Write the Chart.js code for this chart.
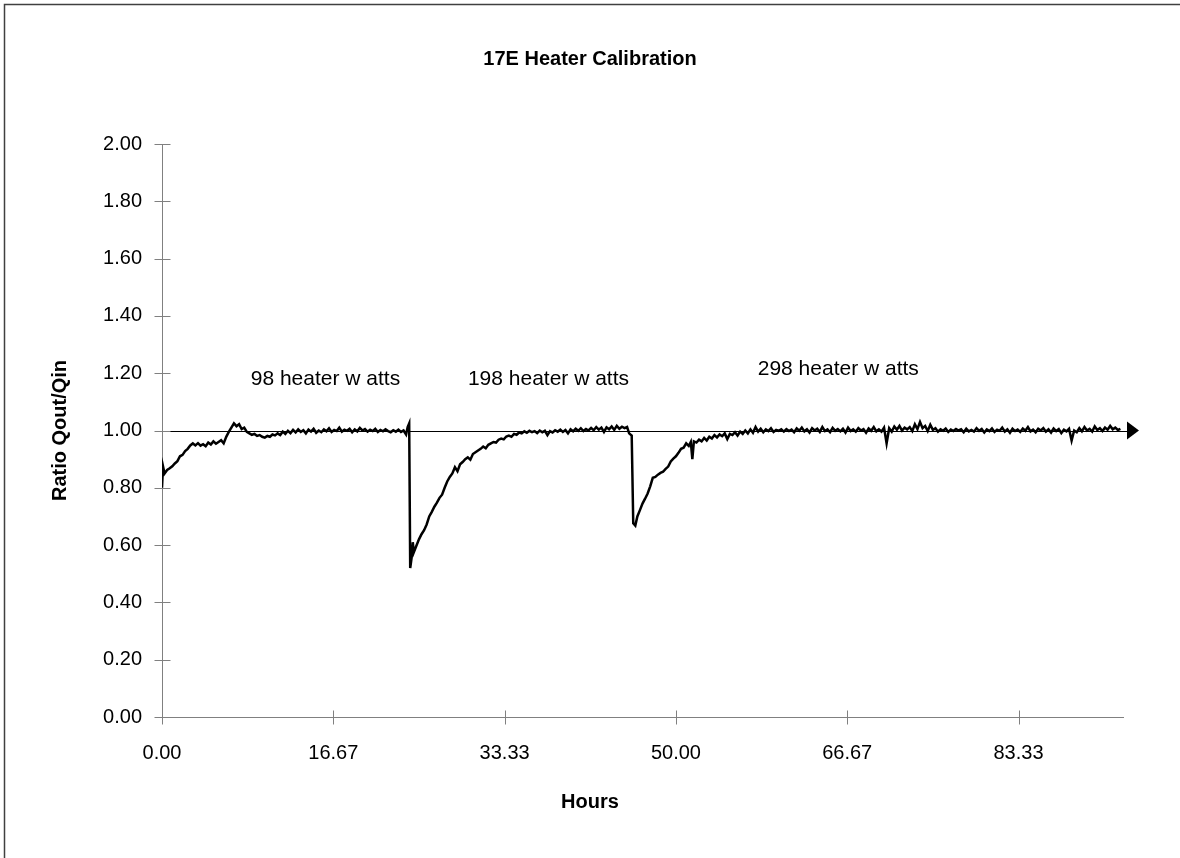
<!DOCTYPE html>
<html>
<head>
<meta charset="utf-8">
<script src="https://cdn.jsdelivr.net/npm/chart.js@4"></script>
<style>
html,body{margin:0;padding:0;background:#fff;}
#wrap{width:1180px;height:858px;}
</style>
</head>
<body>
<div id="wrap"><canvas id="c" width="1180" height="858"></canvas></div>
<script>
const chartTitle = "17E Heater Calibration";
const xAxisTitle = "Hours";
const yAxisTitle = "Ratio Qout/Qin";
const xTickValues = [0, 16.6667, 33.3333, 50, 66.6667, 83.3333];
const xTickLabels = ["0.00", "16.67", "33.33", "50.00", "66.67", "83.33"];
const yTickValues = [0, 0.2, 0.4, 0.6, 0.8, 1.0, 1.2, 1.4, 1.6, 1.8, 2.0];
const yTickLabels = ["0.00", "0.20", "0.40", "0.60", "0.80", "1.00", "1.20", "1.40", "1.60", "1.80", "2.00"];
const xMin = 0, xMax = 93.5, yMin = 0, yMax = 2;
const referenceRatio = 1.0;
const annotationTexts = ["98 heater w atts", "198 heater w atts", "298 heater w atts"];
const annotationHours = [15.9, 37.6, 65.8];
const annotationRatios = [1.18, 1.18, 1.215];

const hours = [
 0.00,0.10,0.25,0.50,0.75,1.00,1.25,1.50,1.75,2.00,2.25,2.50,2.75,3.00,3.25,3.50,3.75,4.00,4.25,4.50,4.75,5.00,5.25,5.50,5.75,6.00,6.25,6.50,6.75,7.00,7.25,7.50,7.75,8.00,8.25,8.50,8.75,9.00,9.25,9.50,9.75,10.00,10.25,10.50,10.75,11.00,11.25,11.50,11.75,12.00,12.25,12.50,12.75,13.00,13.25,13.50,13.75,14.00,14.25,14.50,14.75,15.00,15.25,15.50,15.75,16.00,16.25,16.50,16.75,17.00,17.25,17.50,17.75,18.00,18.25,18.50,18.75,19.00,19.25,19.50,19.75,20.00,20.25,20.50,20.75,21.00,21.25,21.50,21.75,22.00,22.25,22.50,22.75,23.00,23.25,23.50,23.75,23.90,24.05,24.15,
 24.30,24.40,24.50,24.75,25.00,25.25,25.50,25.75,26.00,26.25,26.50,26.75,27.00,27.25,27.50,27.75,28.00,28.25,28.50,28.75,29.00,29.25,29.50,29.75,30.00,30.25,30.50,30.75,31.00,31.25,31.50,31.75,32.00,32.25,32.50,32.75,33.00,33.25,33.50,33.75,34.00,34.25,34.50,34.75,35.00,35.25,35.50,35.75,36.00,36.25,36.50,36.75,37.00,37.25,37.50,37.75,38.00,38.25,38.50,38.75,39.00,39.25,39.50,39.75,40.00,40.25,40.50,40.75,41.00,41.25,41.50,41.75,42.00,42.25,42.50,42.75,43.00,43.25,43.50,43.75,44.00,44.25,44.50,44.75,45.00,45.25,45.45,45.70,45.85,
 46.05,46.25,46.50,46.75,47.00,47.25,47.50,47.75,48.00,48.25,48.50,48.75,49.00,49.25,49.50,49.75,50.00,50.25,50.50,50.75,51.00,51.25,51.45,51.60,51.75,52.00,52.25,52.50,52.75,53.00,53.25,53.50,53.75,54.00,54.25,54.50,54.75,55.00,55.25,55.50,55.75,56.00,56.25,56.50,56.75,57.00,57.25,57.50,57.75,58.00,58.25,58.50,58.75,59.00,59.25,59.50,59.75,60.00,60.25,60.50,60.75,61.00,61.25,61.50,61.75,62.00,62.25,62.50,62.75,63.00,63.25,63.50,63.75,64.00,64.25,64.50,64.75,65.00,65.25,65.50,65.75,66.00,66.25,66.50,66.75,67.00,67.25,67.50,67.75,68.00,68.25,68.50,68.75,69.00,69.25,69.50,69.75,70.00,70.25,70.50,70.75,71.00,71.25,71.50,71.75,72.00,72.25,72.50,72.75,73.00,73.25,73.50,73.75,74.00,74.25,74.50,74.75,75.00,75.25,75.50,75.75,76.00,76.25,76.50,76.75,77.00,77.25,77.50,77.75,78.00,78.25,78.50,78.75,79.00,79.25,79.50,79.75,80.00,80.25,80.50,80.75,81.00,81.25,81.50,81.75,82.00,82.25,82.50,82.75,83.00,83.25,83.50,83.75,84.00,84.25,84.50,84.75,85.00,85.25,85.50,85.75,86.00,86.25,86.50,86.75,87.00,87.25,87.50,87.75,88.00,88.25,88.50,88.75,89.00,89.25,89.50,89.75,90.00,90.25,90.50,90.75,91.00,91.25,91.50,91.75,92.00,92.25,92.50,92.75,93.00,93.25
];

const ratio = [
 0.800,0.875,0.850,0.862,0.868,0.875,0.885,0.893,0.910,0.915,0.928,0.936,0.948,0.955,0.948,0.956,0.947,0.952,0.945,0.958,0.951,0.962,0.954,0.960,0.966,0.955,0.978,0.995,1.010,1.025,1.015,1.022,1.005,1.010,0.995,0.990,0.985,0.988,0.981,0.984,0.978,0.975,0.981,0.978,0.986,0.983,0.990,0.984,0.996,0.988,0.999,0.991,1.002,0.993,1.004,0.995,1.001,0.990,1.003,0.996,1.006,0.992,1.000,0.994,1.004,0.997,1.008,0.995,1.002,0.998,1.010,0.996,1.003,0.999,1.006,0.994,1.004,0.997,1.009,1.000,1.005,0.996,1.003,0.998,1.006,0.995,1.002,0.997,1.004,0.998,0.994,1.001,0.996,1.003,0.995,1.000,0.986,1.012,1.025,0.520,
 0.560,0.610,0.575,0.598,0.620,0.638,0.652,0.672,0.700,0.716,0.734,0.748,0.765,0.776,0.800,0.822,0.838,0.850,0.872,0.858,0.882,0.890,0.900,0.906,0.898,0.918,0.924,0.930,0.936,0.944,0.938,0.950,0.955,0.960,0.958,0.968,0.972,0.969,0.979,0.982,0.978,0.988,0.985,0.993,0.990,0.997,0.992,0.999,0.994,0.998,0.991,1.000,0.994,0.999,0.984,0.998,0.993,1.001,0.996,1.003,0.995,1.002,0.990,1.004,0.997,1.006,0.999,1.008,0.998,1.005,1.000,1.009,1.001,1.012,1.003,1.010,0.995,1.011,1.004,1.014,1.002,1.016,1.006,1.013,1.008,1.012,0.990,0.982,0.676,
 0.668,0.700,0.722,0.745,0.762,0.780,0.805,0.835,0.838,0.846,0.852,0.856,0.866,0.874,0.892,0.902,0.910,0.922,0.936,0.940,0.955,0.946,0.960,0.900,0.962,0.958,0.968,0.962,0.974,0.965,0.978,0.972,0.984,0.976,0.986,0.980,0.990,0.970,0.988,0.984,0.994,0.982,0.996,0.988,1.000,0.990,1.004,0.992,1.012,0.996,1.006,0.994,1.004,0.998,1.008,0.995,1.002,0.999,1.004,0.996,1.005,0.998,1.003,0.994,1.007,0.999,1.010,0.997,1.004,0.993,1.008,1.000,1.006,0.995,1.012,0.998,1.004,0.994,1.009,0.999,1.005,0.997,1.006,0.993,1.010,0.998,1.004,0.996,1.008,1.000,1.005,0.992,1.007,0.999,1.012,0.997,1.004,0.996,1.010,0.955,1.008,0.996,1.014,1.003,1.016,1.000,1.010,1.004,1.012,0.998,1.022,1.005,1.030,1.008,1.016,0.998,1.020,1.002,1.008,0.996,1.004,0.999,1.007,0.995,1.003,0.998,1.005,1.000,1.004,0.994,1.006,0.997,1.002,0.996,1.008,0.999,1.005,0.993,1.004,0.998,1.007,0.995,1.003,0.999,1.010,0.996,1.004,0.992,1.006,0.998,1.003,0.995,1.007,0.999,1.012,0.997,1.003,0.994,1.006,1.000,1.008,0.996,1.004,0.993,1.007,0.998,1.005,0.991,1.003,0.997,1.006,0.965,1.000,0.994,1.008,0.997,1.012,1.000,1.006,0.996,1.014,1.002,1.008,0.998,1.010,1.003,1.016,1.004,1.010,1.002,1.006
];

const FONT = "'Liberation Sans', Arial, sans-serif";
const AREA = {left: 162, right: 1123, top: 144, bottom: 717};
const HOURS_BOX = {top: 10, bottom: 44, line: 24};

const framePlugin = {
  id: 'frame',
  beforeDraw(chart) {
    const ctx = chart.ctx;
    ctx.save();
    ctx.fillStyle = '#ffffff';
    ctx.fillRect(0, 0, chart.width, chart.height);
    ctx.strokeStyle = '#404040';
    ctx.lineWidth = 1.5;
    ctx.strokeRect(4.5, 4.5, chart.width + 20, chart.height + 20);
    ctx.restore();
  }
};

const refLinePlugin = {
  id: 'refLine',
  beforeDatasetsDraw(chart) {
    const {ctx, chartArea, scales} = chart;
    const y = scales.y.getPixelForValue(referenceRatio);
    ctx.save();
    ctx.strokeStyle = '#000';
    ctx.lineWidth = 1;
    ctx.beginPath();
    ctx.moveTo(chartArea.left - 6, Math.round(y) + 0.5);
    ctx.lineTo(chartArea.right + 5, Math.round(y) + 0.5);
    ctx.stroke();
    ctx.fillStyle = '#000';
    ctx.beginPath();
    ctx.moveTo(chartArea.right + 4, y - 9);
    ctx.lineTo(chartArea.right + 16, y);
    ctx.lineTo(chartArea.right + 4, y + 9);
    ctx.closePath();
    ctx.fill();
    ctx.restore();
  }
};

const crossTicksPlugin = {
  id: 'crossTicks',
  afterDraw(chart) {
    const {ctx, chartArea, scales} = chart;
    ctx.save();
    ctx.strokeStyle = '#808080';
    ctx.lineWidth = 1;
    ctx.beginPath();
    const ax = Math.round(chartArea.left) + 0.5;
    scales.y.ticks.forEach(t => {
      const py = Math.round(scales.y.getPixelForValue(t.value)) + 0.5;
      ctx.moveTo(ax - 8, py); ctx.lineTo(ax + 8, py);
    });
    const ay = Math.round(chartArea.bottom) + 0.5;
    scales.x.ticks.forEach(t => {
      const px = Math.round(scales.x.getPixelForValue(t.value)) + 0.5;
      ctx.moveTo(px, ay - 7); ctx.lineTo(px, ay + 7);
    });
    ctx.stroke();
    ctx.restore();
  }
};

const annotationPlugin = {
  id: 'notes',
  afterDatasetsDraw(chart) {
    const {ctx, scales} = chart;
    ctx.save();
    ctx.fillStyle = '#000';
    ctx.font = '21px ' + FONT;
    ctx.textAlign = 'center';
    ctx.textBaseline = 'middle';
    annotationTexts.forEach((t, i) => {
      ctx.fillText(t, scales.x.getPixelForValue(annotationHours[i]), scales.y.getPixelForValue(annotationRatios[i]));
    });
    ctx.restore();
  }
};

new Chart(document.getElementById('c'), {
  type: 'line',
  data: {
    datasets: [{
      data: hours.map((h, i) => ({x: h, y: ratio[i]})),
      borderColor: '#000',
      borderWidth: 2.5,
      pointRadius: 0,
      tension: 0,
      fill: false,
      yAxisID: 'y'
    }]
  },
  options: {
    responsive: false,
    animation: false,
    devicePixelRatio: 1,
    layout: {padding: 0},
    plugins: {
      legend: {display: false},
      tooltip: {enabled: false},
      title: {
        display: true,
        text: chartTitle,
        color: '#000',
        font: {family: FONT, size: 20, weight: 'bold', lineHeight: 1.2},
        padding: {top: 47, bottom: AREA.top - 47 - 24}
      },
      subtitle: {
        display: true,
        position: 'bottom',
        text: xAxisTitle,
        color: '#000',
        font: {family: FONT, size: 20, weight: 'bold', lineHeight: 1.2},
        padding: {top: HOURS_BOX.top, bottom: HOURS_BOX.bottom}
      }
    },
    scales: {
      x: {
        type: 'linear',
        min: xMin, max: xMax,
        afterBuildTicks(scale) { scale.ticks = xTickValues.map(v => ({value: v})); },
        afterFit(scale) { scale.height = 858 - AREA.bottom - (HOURS_BOX.top + HOURS_BOX.bottom + HOURS_BOX.line); },
        grid: {display: false, drawTicks: false},
        border: {display: true, color: '#808080', width: 1},
        ticks: {
          color: '#000', font: {family: FONT, size: 20}, padding: 24, maxRotation: 0, autoSkip: false,
          callback(v, i) { return xTickLabels[i]; }
        },
        title: {display: false}
      },
      y: {
        type: 'linear',
        position: 'left',
        min: yMin, max: yMax,
        afterBuildTicks(scale) { scale.ticks = yTickValues.map(v => ({value: v})); },
        afterFit(scale) { scale.width = AREA.left; },
        grid: {display: false, drawTicks: false},
        border: {display: true, color: '#808080', width: 1},
        ticks: {
          color: '#000', font: {family: FONT, size: 20}, padding: 20, autoSkip: false,
          callback(v, i) { return yTickLabels[i]; }
        },
        title: {display: true, text: yAxisTitle, color: '#000', font: {family: FONT, size: 20, weight: 'bold', lineHeight: 1.2}, padding: {top: 48, bottom: 0}}
      },
      spacer: {
        type: 'linear',
        position: 'right',
        display: true,
        min: yMin, max: yMax,
        afterFit(scale) { scale.width = 1180 - AREA.right; },
        grid: {display: false, drawTicks: false},
        border: {display: false},
        ticks: {display: false}
      }
    }
  },
  plugins: [framePlugin, refLinePlugin, crossTicksPlugin, annotationPlugin]
});
</script>
</body>
</html>
